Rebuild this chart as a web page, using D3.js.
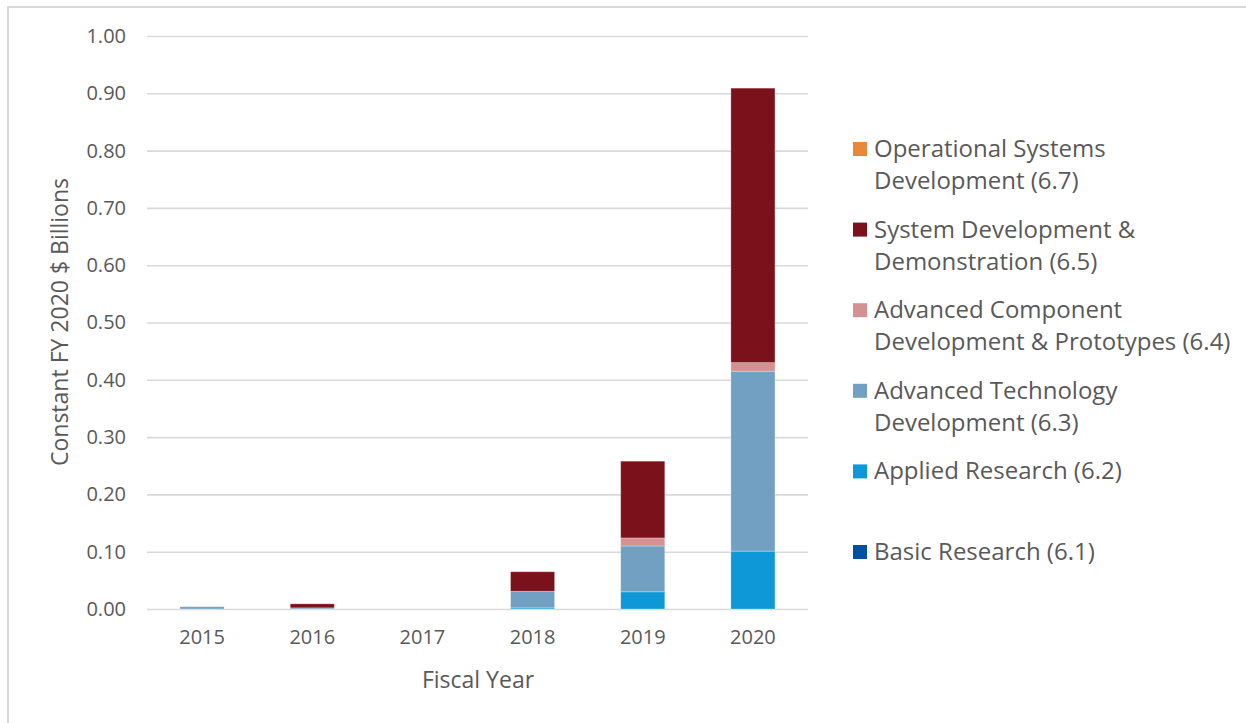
<!DOCTYPE html>
<html>
<head>
<meta charset="utf-8">
<script src="https://cdn.jsdelivr.net/npm/d3@7"></script>
<style>
    body { margin: 0; background: #fff; }
    svg { font-family: "Open Sans", "Noto Sans", sans-serif; }
</style>
</head>
<body>
<svg id="chart" width="1246" height="723"></svg>
<script>
// fiscal years on the x axis
const years = ["2015", "2016", "2017", "2018", "2019", "2020"];

// budget activities, bottom of the stack first
const seriesKeys = ["b61", "b62", "b63", "b64", "b65", "b67"];
const seriesNames = [
    "Basic Research (6.1)",
    "Applied Research (6.2)",
    "Advanced Technology Development (6.3)",
    "Advanced Component Development & Prototypes (6.4)",
    "System Development & Demonstration (6.5)",
    "Operational Systems Development (6.7)"
];
const seriesColors = ["#0050a0", "#0f98d8", "#71a0c2", "#d59092", "#7b111a", "#e8883a"];

// values, constant FY 2020 $ billions
const basicResearch = [0, 0, 0, 0, 0, 0];
const appliedResearch = [0, 0, 0, 0.002, 0.030, 0.101];
const advTechDev = [0.004, 0.002, 0, 0.029, 0.080, 0.314];
const advComponentDev = [0, 0, 0, 0, 0.014, 0.015];
const systemDevDemo = [0, 0.007, 0, 0.034, 0.134, 0.479];
const operationalDev = [0, 0, 0, 0, 0, 0];

const yTicks = [0, 0.1, 0.2, 0.3, 0.4, 0.5, 0.6, 0.7, 0.8, 0.9, 1.0];

// legend order, top to bottom, with its line breaks
const legendLines = [
    ["Operational Systems", "Development (6.7)"],
    ["System Development &", "Demonstration (6.5)"],
    ["Advanced Component", "Development & Prototypes (6.4)"],
    ["Advanced Technology", "Development (6.3)"],
    ["Applied Research (6.2)"],
    ["Basic Research (6.1)"]
];
const legendColors = ["#e8883a", "#7b111a", "#d59092", "#71a0c2", "#0f98d8", "#0050a0"];

const allSeries = [basicResearch, appliedResearch, advTechDev, advComponentDev, systemDevDemo, operationalDev];
const table = years.map((yr, i) => {
    let row = {year: yr};
    seriesKeys.forEach((k, j) => { row[k] = allSeries[j][i]; });
    return row;
});

const textColor = "#595959";
const gridColor = "#d9d9d9";

let svg = d3.select("#chart");

// outer chart border
svg.append("rect")
    .attr("x", 8)
    .attr("y", 7)
    .attr("width", 1250)
    .attr("height", 730)
    .attr("fill", "none")
    .attr("stroke", gridColor)
    .attr("stroke-width", 2);

let plot = {left: 147, right: 808, top: 36, bottom: 609};

let x = d3.scaleBand()
    .domain(years)
    .range([plot.left, plot.right])
    .paddingInner(0.6)
    .paddingOuter(0.3);

let y = d3.scaleLinear()
    .domain([0, 1])
    .range([plot.bottom, plot.top]);

// gridlines + y labels
let yAxis = svg.append("g")
    .attr("transform", "translate(" + plot.left + ",0)")
    .call(d3.axisLeft(y)
        .tickValues(yTicks)
        .tickFormat(d3.format(".2f"))
        .tickSize(-(plot.right - plot.left))
        .tickPadding(21));
yAxis.select(".domain").remove();
yAxis.selectAll("line").attr("stroke", gridColor).attr("stroke-width", 1.6);
yAxis.selectAll("text")
    .attr("fill", textColor)
    .style("font-size", "20px")
    .style("font-family", "'Open Sans', sans-serif");

// stacked bars
let stacked = d3.stack().keys(seriesKeys)(table);

svg.append("g")
    .selectAll("g")
    .data(stacked)
    .enter()
    .append("g")
    .attr("fill", (d, i) => seriesColors[i])
    .selectAll("rect")
    .data(d => d.filter(p => p[1] - p[0] > 0))
    .enter()
    .append("rect")
    .attr("x", d => x(d.data.year))
    .attr("y", d => y(d[1]))
    .attr("width", x.bandwidth())
    .attr("height", d => y(d[0]) - y(d[1]))
    .attr("stroke", "#ffffff")
    .attr("stroke-opacity", 0.35)
    .attr("stroke-width", 0.8);

// x axis labels
let xAxis = svg.append("g")
    .attr("transform", "translate(0," + plot.bottom + ")")
    .call(d3.axisBottom(x).tickSize(0).tickPadding(21));
xAxis.select(".domain").remove();
xAxis.selectAll("text")
    .attr("fill", textColor)
    .style("font-size", "20px")
    .style("font-family", "'Open Sans', sans-serif");

// axis titles
svg.append("text")
    .attr("x", 478)
    .attr("y", 688)
    .attr("text-anchor", "middle")
    .attr("fill", textColor)
    .style("font-size", "23px")
    .text("Fiscal Year");

svg.append("text")
    .attr("transform", "translate(68,322)rotate(-90)")
    .attr("text-anchor", "middle")
    .attr("fill", textColor)
    .style("font-size", "23px")
    .text("Constant FY 2020 $ Billions");

// legend
let legend = svg.append("g");
let items = legend.selectAll("g")
    .data(legendLines)
    .enter()
    .append("g")
    .attr("transform", (d, i) => "translate(853," + (149 + i * 80.6) + ")");

items.append("rect")
    .attr("x", 0)
    .attr("y", -7)
    .attr("width", 14)
    .attr("height", 14)
    .attr("fill", (d, i) => legendColors[i]);

items.append("text")
    .attr("fill", textColor)
    .style("font-size", "24px")
    .selectAll("tspan")
    .data(d => d)
    .enter()
    .append("tspan")
    .attr("x", 21)
    .attr("y", (d, i) => 8 + i * 32)
    .text(d => d);
</script>
</body>
</html>
